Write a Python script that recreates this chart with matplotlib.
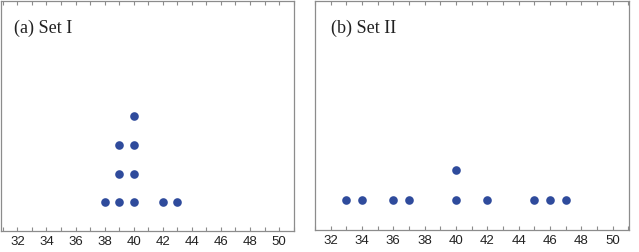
import matplotlib.pyplot as plt
import numpy as np
from matplotlib.ticker import MultipleLocator

# dot plot data (each value is one observation)
set1 = [38, 39, 39, 39, 40, 40, 40, 40, 42, 43]
set2 = [33, 34, 36, 37, 40, 40, 42, 45, 46, 47]
titles = ['(a) Set I', '(b) Set II']
xticks = np.arange(32, 51, 2)

dot_color = '#2f4b9c'
frame_color = '#8c8c8c'

fig = plt.figure(figsize=(6.39, 2.52), dpi=100)
ax1 = fig.add_axes([0.001, 21/252, 293/639, 230/252])
ax2 = fig.add_axes([315/639, 22/252, 314/639, 229/252])


def stack(vals):
    # height of each dot = how many times the value appeared so far
    xs, ys, seen = [], [], {}
    for v in vals:
        seen[v] = seen.get(v, 0) + 1
        xs.append(v)
        ys.append(seen[v])
    return xs, ys


for ax, data, title, xlim, ylim in [(ax1, set1, titles[0], (30.85, 51.0), (0, 8.0)),
                                    (ax2, set2, titles[1], (31.0, 51.05), (0, 7.6))]:
    xs, ys = stack(data)
    ax.plot(xs, ys, 'o', color=dot_color, markersize=6.2, markeredgewidth=0)
    ax.set_xlim(*xlim)
    ax.set_ylim(*ylim)
    ax.set_xticks(xticks)
    ax.xaxis.set_minor_locator(MultipleLocator(1))
    ax.set_yticks([])
    ax.tick_params(axis='x', which='both', direction='in', top=True, bottom=True,
                   length=3, width=0.8, color=frame_color, labelsize=9.5, pad=3.5,
                   labelcolor='#222222')
    for lab in ax.get_xticklabels():
        lab.set_family('Liberation Sans')
    for s in ax.spines.values():
        s.set_color(frame_color)
        s.set_linewidth(0.9)
    ax.text(0.045 if ax is ax1 else 0.05, 0.88, title, transform=ax.transAxes,
            fontsize=13, family='Liberation Serif', color='#222222',
            va='center', ha='left')

fig.savefig('out.png', dpi=100)
